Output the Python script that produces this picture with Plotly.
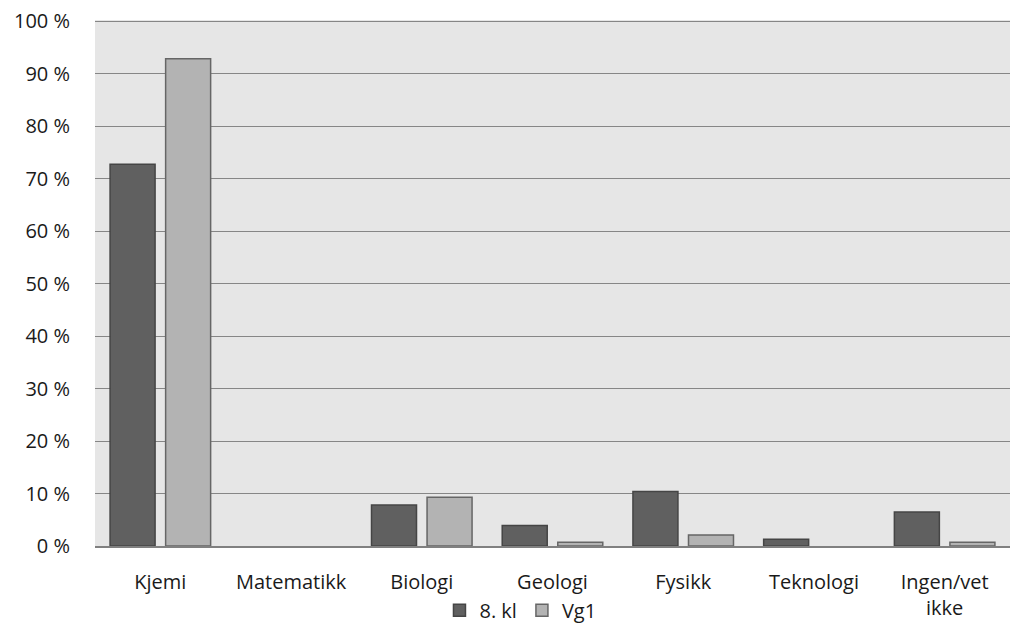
import plotly.graph_objects as go

categories = ["Kjemi", "Matematikk", "Biologi", "Geologi", "Fysikk", "Teknologi", "Ingen/vet<br>ikke"]
kl8 = [72.7, 0, 7.8, 3.9, 10.4, 1.3, 6.5]
vg1 = [92.8, 0, 9.3, 0.7, 2.1, 0, 0.7]


def outline(values):
    # no outline on empty bars, like the original
    return [1.5 if v > 0 else 0 for v in values]


fig = go.Figure()
fig.add_trace(go.Bar(x=categories, y=kl8, name="8. kl",
                     marker=dict(color="#606060", line=dict(color="#454545", width=outline(kl8)))))
fig.add_trace(go.Bar(x=categories, y=vg1, name="Vg1",
                     marker=dict(color="#b3b3b3", line=dict(color="#666666", width=outline(vg1)))))

# page has an 8px body margin, so the figure is a bit smaller than the window
fig.update_layout(
    width=1014, height=619,
    margin=dict(l=87, r=12, t=12, b=81, autoexpand=False),
    paper_bgcolor="white", plot_bgcolor="#e6e6e6",
    font=dict(family="Open Sans", size=20, color="#1a1a1a"),
    barmode="group", bargap=0.15, bargroupgap=0.19,
    showlegend=True,
    legend=dict(orientation="h", x=0.465, xanchor="center", y=-0.122, yanchor="middle",
                bgcolor="rgba(0,0,0,0)", font=dict(size=20), itemwidth=30),
)
fig.update_xaxes(showline=True, linecolor="#808080", linewidth=2, ticks="",
                 ticklabelstandoff=17, showgrid=False, automargin=False)
# a hair above 100 so the top gridline is kept
fig.update_yaxes(range=[0, 100.2], tick0=0, dtick=10, ticksuffix=" %",
                 showgrid=True, gridcolor="#868686", gridwidth=1, zeroline=False, ticks="",
                 ticklabelstandoff=24, ticklabeloverflow="allow", showline=False,
                 automargin=False)

fig.write_html("out.html")
